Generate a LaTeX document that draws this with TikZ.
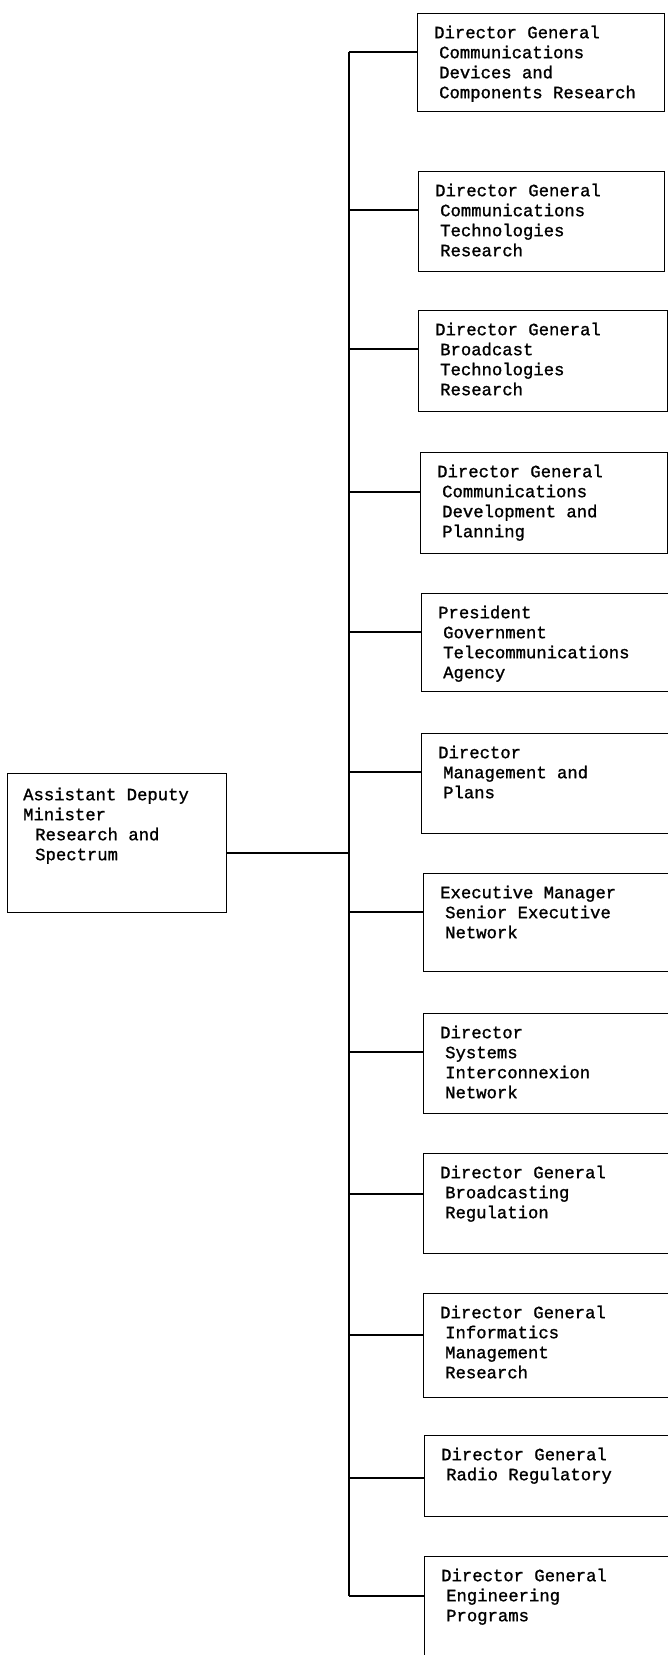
\documentclass[tikz,border=0pt]{standalone}
\usepackage{fontspec}
\setmonofont{Liberation Mono}[FakeBold=1.2]
\newcommand{\ind}{\hspace*{5pt}}
\newcommand{\indb}{\hspace*{12pt}}
\tikzset{
  orgbox/.style={draw, line width=1.1pt, inner sep=0pt, anchor=north west},
  boxtext/.style={anchor=north west, inner sep=0pt, align=left,
    font=\fontsize{17.25}{20}\selectfont\ttfamily},
  link/.style={line width=1.1pt}
}
\newcommand{\orgunit}[6]{%
  % #1 name, #2 left x, #3 top, #4 right, #5 bottom, #6 text
  \node[orgbox, minimum width={(#4-#2)*1pt}, minimum height={(#5-#3)*1pt}] (#1) at (#2,#3) {};
  \node[boxtext] (#1t) at ([xshift=17pt,yshift=-11pt]#1.north west) {\strut #6};
}
\begin{document}
\begin{tikzpicture}[x=1pt,y=-1pt]
\useasboundingbox (0,0) rectangle (668,1655);
\begin{scope}
\clip (0,0) rectangle (668,1655);
\orgunit{b1}{417}{13}{664}{111}{Director General\\\ind Communications\\\ind Devices and\\\ind Components Research}
\orgunit{b2}{418}{171}{664}{271}{Director General\\\ind Communications\\\ind Technologies\\\ind Research}
\orgunit{b3}{418}{310}{667}{411}{Director General\\\ind Broadcast\\\ind Technologies\\\ind Research}
\orgunit{b4}{420}{452}{667}{553}{Director General\\\ind Communications\\\ind Development and\\\ind Planning}
\orgunit{b5}{421}{593}{680}{691}{President\\\ind Government\\\ind Telecommunications\\\ind Agency}
\orgunit{b6}{421}{733}{680}{833}{Director\\\ind Management and\\\ind Plans}
\orgunit{b7}{423}{873}{680}{971}{Executive Manager\\\ind Senior Executive\\\ind Network}
\orgunit{b8}{423}{1013}{680}{1113}{Director\\\ind Systems\\\ind Interconnexion\\\ind Network}
\orgunit{b9}{423}{1153}{680}{1253}{Director General\\\ind Broadcasting\\\ind Regulation}
\orgunit{b10}{423}{1293}{680}{1397}{Director General\\\ind Informatics\\\ind Management\\\ind Research}
\orgunit{b11}{424}{1435}{680}{1516}{Director General\\\ind Radio Regulatory}
\orgunit{b12}{424}{1556}{680}{1670}{Director General\\\ind Engineering\\\ind Programs}
\end{scope}
% root box
\node[orgbox, minimum width=219pt, minimum height=139pt] (root) at (7,773) {};
\node[boxtext] (roott) at ([xshift=16pt,yshift=-13pt]root.north west)
  {\strut Assistant Deputy\\Minister\\\indb Research and\\\indb Spectrum};
% trunk junctions
\coordinate (j1) at (349,52);
\coordinate (j2) at (349,210);
\coordinate (j3) at (349,349);
\coordinate (j4) at (349,492);
\coordinate (j5) at (349,632);
\coordinate (j6) at (349,772);
\coordinate (j7) at (349,912);
\coordinate (j8) at (349,1052);
\coordinate (j9) at (349,1194);
\coordinate (j10) at (349,1335);
\coordinate (j11) at (349,1478);
\coordinate (j12) at (349,1596);
\coordinate (jr) at (349,853);
\draw[link] (j1) -- (j12);
\draw[link] (root.east |- jr) -- (jr);
\foreach \i in {1,...,12}{
  \draw[link] (j\i) -- (j\i -| b\i.west);
}
\end{tikzpicture}
\end{document}
